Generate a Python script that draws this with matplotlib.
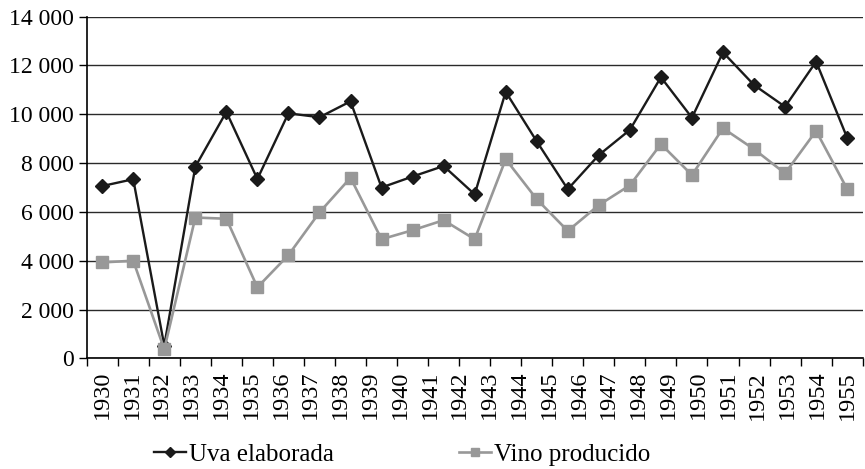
import numpy as np
import matplotlib
matplotlib.use("Agg")
import matplotlib.pyplot as plt
from matplotlib.ticker import FuncFormatter

plt.rcParams['font.family'] = ['Liberation Serif', 'DejaVu Serif']

years = [str(y) for y in range(1930, 1956)]
uva = [7060, 7340, 520, 7850, 10100, 7350, 10040, 9880, 10530, 7000, 7450, 7880,
       6720, 10920, 8890, 6930, 8330, 9360, 11520, 9860, 12540, 11200, 10310, 12160, 9040]
vino = [3930, 4000, 370, 5770, 5720, 2910, 4230, 5980, 7400, 4880, 5250, 5660,
        4880, 8160, 6520, 5220, 6280, 7090, 8780, 7510, 9430, 8570, 7580, 9320, 6940]

fig = plt.figure(figsize=(8.65, 4.69), dpi=100)
ax = fig.add_axes([0.1002, 0.236, 0.8971, 0.7284])

x = np.arange(len(uva))
ax.plot(x, uva, color='#1a1a1a', lw=1.7, marker='D', ms=6.8, label='Uva elaborada', zorder=3)
ax.plot(x, vino, color='#989898', lw=1.9, marker='s', ms=8, label='Vino producido', zorder=4)

ax.set_ylim(0, 14000)
ax.set_xlim(-0.5, len(uva) - 0.5)
ax.set_yticks(range(0, 14001, 2000))
ax.yaxis.set_major_formatter(FuncFormatter(lambda v, p: f"{int(v):,}".replace(",", " ")))
ax.grid(axis='y', color='#2a2a2a', lw=1.0)
ax.set_axisbelow(True)

# marcas entre categorias, etiquetas repartidas a lo ancho
ax.set_xticks(np.arange(-0.5, len(uva), 1.0))
ax.set_xticklabels([])
ax.set_xticks(np.linspace(0, len(uva) - 1, len(years)), minor=True)
ax.set_xticklabels(years, minor=True, rotation=90, fontsize=17.5)
ax.tick_params(axis='x', which='minor', length=0, pad=9)
ax.tick_params(axis='x', which='major', length=6, width=1, color='black')
ax.tick_params(axis='y', length=6, width=1, labelsize=17, pad=3)

for s in ['top', 'right']:
    ax.spines[s].set_visible(False)
for s in ['left', 'bottom']:
    ax.spines[s].set_color('black')
    ax.spines[s].set_linewidth(1.2)

fig.legend(loc='center left', bbox_to_anchor=(0.152, 0.031), ncol=2, frameon=False,
           fontsize=18, handlelength=1.3, handletextpad=0.1, columnspacing=5.0,
           markerscale=0.75)

fig.savefig("out.png", dpi=100)
